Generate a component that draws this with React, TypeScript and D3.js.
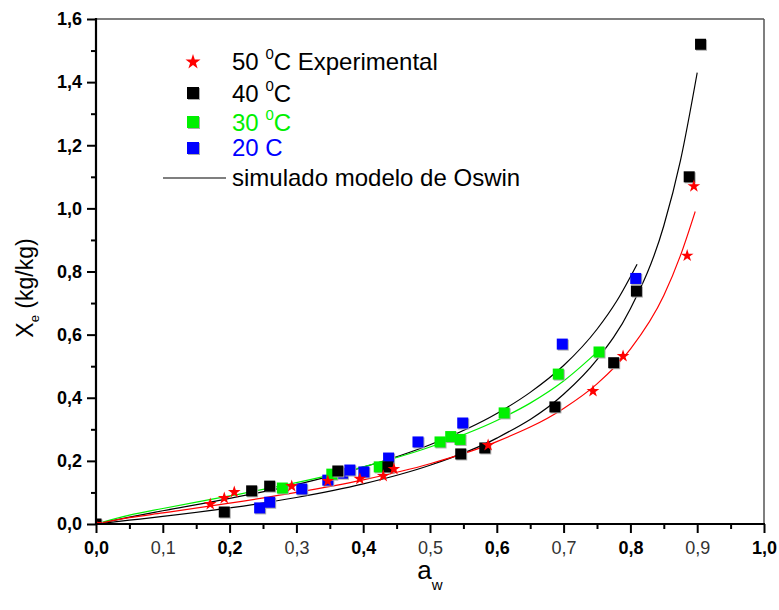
import { useEffect, useRef } from 'react'
import * as d3 from 'd3'

// experimental points [aw, Xe]
const exp50: [number, number][] = [
  [0, 0], [0.171, 0.063], [0.192, 0.082], [0.207, 0.101], [0.293, 0.12], [0.347, 0.136],
  [0.395, 0.143], [0.43, 0.152], [0.446, 0.174], [0.587, 0.25], [0.744, 0.421],
  [0.789, 0.532], [0.885, 0.85], [0.895, 1.07]
]
const exp40: [number, number][] = [
  [0, 0], [0.192, 0.038], [0.233, 0.105], [0.26, 0.12], [0.362, 0.168], [0.437, 0.181],
  [0.546, 0.222], [0.582, 0.241], [0.687, 0.371], [0.775, 0.511], [0.809, 0.738],
  [0.888, 1.1], [0.905, 1.52]
]
const exp30: [number, number][] = [
  [0.279, 0.114], [0.353, 0.158], [0.424, 0.181], [0.515, 0.26], [0.531, 0.277],
  [0.545, 0.268], [0.611, 0.352], [0.692, 0.475], [0.753, 0.545]
]
const exp20: [number, number][] = [
  [0.245, 0.051], [0.26, 0.069], [0.308, 0.111], [0.347, 0.139], [0.369, 0.161],
  [0.38, 0.171], [0.401, 0.165], [0.438, 0.209], [0.482, 0.26], [0.549, 0.32],
  [0.698, 0.57], [0.808, 0.778]
]

// Oswin model curves
const model20: [number, number][] = [
  [0, 0], [0.05, 0.022], [0.1, 0.042], [0.2, 0.081], [0.3, 0.125], [0.4, 0.18], [0.5, 0.251],
  [0.6, 0.35], [0.65, 0.417], [0.7, 0.502], [0.75, 0.617], [0.78, 0.708], [0.81, 0.823]
]
const model30: [number, number][] = [
  [0, 0], [0.05, 0.028], [0.1, 0.049], [0.2, 0.089], [0.3, 0.131], [0.4, 0.181], [0.5, 0.244],
  [0.6, 0.328], [0.65, 0.383], [0.7, 0.453], [0.753, 0.55]
]
const model40: [number, number][] = [
  [0, 0], [0.05, 0.012], [0.1, 0.024], [0.2, 0.051], [0.3, 0.084], [0.4, 0.127], [0.5, 0.186],
  [0.6, 0.272], [0.7, 0.411], [0.75, 0.521], [0.8, 0.682], [0.85, 0.945], [0.875, 1.152], [0.9, 1.43]
]
const model50: [number, number][] = [
  [0, 0], [0.05, 0.02], [0.1, 0.035], [0.2, 0.066], [0.3, 0.1], [0.4, 0.14], [0.5, 0.191],
  [0.6, 0.261], [0.7, 0.366], [0.75, 0.444], [0.8, 0.554], [0.85, 0.724], [0.875, 0.851], [0.897, 0.99]
]

const xTicks = [0, 0.1, 0.2, 0.3, 0.4, 0.5, 0.6, 0.7, 0.8, 0.9, 1.0]
const xMinor = [0.05, 0.15, 0.25, 0.35, 0.45, 0.55, 0.65, 0.75, 0.85, 0.95]
const yTicks = [0, 0.2, 0.4, 0.6, 0.8, 1.0, 1.2, 1.4, 1.6]
const yMinor = [0.1, 0.3, 0.5, 0.7, 0.9, 1.1, 1.3, 1.5]

const W = 779
const H = 610
const L = 96
const R = 764
const T = 19
const B = 524
const font = '"Liberation Sans", Arial, sans-serif'
const GREEN = '#00f000'

const fmt = (d: number) => d.toFixed(1).replace('.', ',')

const Square = ({ cx, cy, fill, s = 11 }) => (
  <g>
    <rect x={cx - s / 2 + 1} y={cy - s / 2 + 1} width={s} height={s} fill="#aaa" />
    <rect x={cx - s / 2} y={cy - s / 2} width={s} height={s} fill={fill} />
  </g>
)

const star = (size: number) => d3.symbol(d3.symbolStar, size)()

export default function App() {
  const axRef = useRef<SVGGElement>(null)
  const x = d3.scaleLinear().domain([0, 1]).range([L, R])
  const y = d3.scaleLinear().domain([0, 1.6]).range([B, T])
  const line = d3.line<[number, number]>()
    .x((d) => x(d[0]))
    .y((d) => y(d[1]))
    .curve(d3.curveMonotoneX)

  useEffect(() => {
    const g = d3.select(axRef.current)
    g.selectAll('*').remove()

    const style = (sel, size) => {
      sel.select('.domain').remove()
      sel.selectAll('.tick line').attr('stroke', '#000').attr('stroke-width', 2)
      sel.selectAll('.tick text').attr('font-family', font).attr('font-size', size).attr('fill', '#000')
    }

    g.append('g').attr('transform', `translate(0,${B})`)
      .call(d3.axisBottom(x).tickValues(xMinor).tickSize(5).tickFormat(() => ''))
      .call((s) => style(s, 18))
    const xa = g.append('g').attr('transform', `translate(0,${B})`)
      .call(d3.axisBottom(x).tickValues(xTicks).tickSize(9).tickPadding(8).tickFormat((d) => fmt(+d)))
      .call((s) => style(s, 18))
    xa.selectAll('.tick text')
      .attr('font-weight', (_d, i) => (i % 2 === 0 ? 'bold' : 'normal'))
      .attr('fill', (_d, i) => (i % 2 === 0 ? '#000' : '#333'))

    g.append('g').attr('transform', `translate(${L},0)`)
      .call(d3.axisLeft(y).tickValues(yMinor).tickSize(5).tickFormat(() => ''))
      .call((s) => style(s, 18))
    g.append('g').attr('transform', `translate(${L},0)`)
      .call(d3.axisLeft(y).tickValues(yTicks).tickSize(9).tickPadding(5).tickFormat((d) => fmt(+d)))
      .call((s) => style(s, 18))
      .selectAll('.tick text').attr('font-weight', 'bold')
  }, [])

  return (
    <div style={{ position: 'fixed', left: 0, top: 0 }}>
      <svg width={W} height={H} style={{ display: 'block', background: '#fff' }}>
        <defs>
          <clipPath id="plot">
            <rect x={L} y={T} width={R - L} height={B - T} />
          </clipPath>
        </defs>

        {/* frame */}
        <line x1={L} y1={T} x2={R} y2={T} stroke="#555" strokeWidth={1.5} />
        <line x1={R} y1={T} x2={R} y2={B} stroke="#555" strokeWidth={1.5} />

        <g clipPath="url(#plot)">
          <path d={line(model20)} fill="none" stroke="#000" strokeWidth={1.2} />
          <path d={line(model30)} fill="none" stroke={GREEN} strokeWidth={1.2} />
          <path d={line(model40)} fill="none" stroke="#000" strokeWidth={1.2} />
          <path d={line(model50)} fill="none" stroke="#f00" strokeWidth={1.2} />

          {exp20.map((d, i) => <Square key={'b' + i} cx={x(d[0])} cy={y(d[1])} fill="#0000ff" />)}
          {exp30.map((d, i) => <Square key={'g' + i} cx={x(d[0])} cy={y(d[1])} fill={GREEN} />)}
          {exp40.map((d, i) => <Square key={'k' + i} cx={x(d[0])} cy={y(d[1])} fill="#000" />)}
          {exp50.map((d, i) => (
            <path key={'r' + i} d={star(50)} transform={`translate(${x(d[0])},${y(d[1])})`} fill="#f00" />
          ))}
        </g>

        {/* axis lines */}
        <line x1={L} y1={T - 1} x2={L} y2={B + 1} stroke="#000" strokeWidth={2.2} />
        <line x1={L - 1} y1={B} x2={R + 1} y2={B} stroke="#000" strokeWidth={2.2} />
        <g ref={axRef} />

        {/* axis titles */}
        <text x={(L + R) / 2} y={579} textAnchor="middle" fontFamily={font} fontSize={26}>
          a<tspan fontSize={15} dy={11}>w</tspan>
        </text>
        <text transform={`translate(33,288) rotate(-90)`} textAnchor="middle" fontFamily={font} fontSize={23}>
          X<tspan fontSize={13} dy={6}>e</tspan><tspan dy={-6}>{'  (kg/kg)'}</tspan>
        </text>

        {/* legend */}
        <g fontFamily={font} fontSize={24}>
          <path d={star(70)} transform="translate(193,62)" fill="#f00" />
          <text x={232} y={70}>
            50 <tspan fontSize={15} dy={-11}>0</tspan><tspan dy={11}>C Experimental</tspan>
          </text>

          <Square cx={193} cy={93} fill="#000" s={12} />
          <text x={232} y={102}>
            40 <tspan fontSize={15} dy={-11}>0</tspan><tspan dy={11}>C</tspan>
          </text>

          <Square cx={193} cy={122} fill={GREEN} s={12} />
          <text x={232} y={131} fill={GREEN}>
            30 <tspan fontSize={15} dy={-11}>0</tspan><tspan dy={11}>C</tspan>
          </text>

          <Square cx={193} cy={148} fill="#0000ff" s={12} />
          <text x={232} y={156} fill="#0000ff">20 C</text>

          <line x1={163} y1={178} x2={226} y2={178} stroke="#000" strokeWidth={1.2} />
          <text x={232} y={186}>simulado modelo de Oswin</text>
        </g>
      </svg>
    </div>
  )
}
